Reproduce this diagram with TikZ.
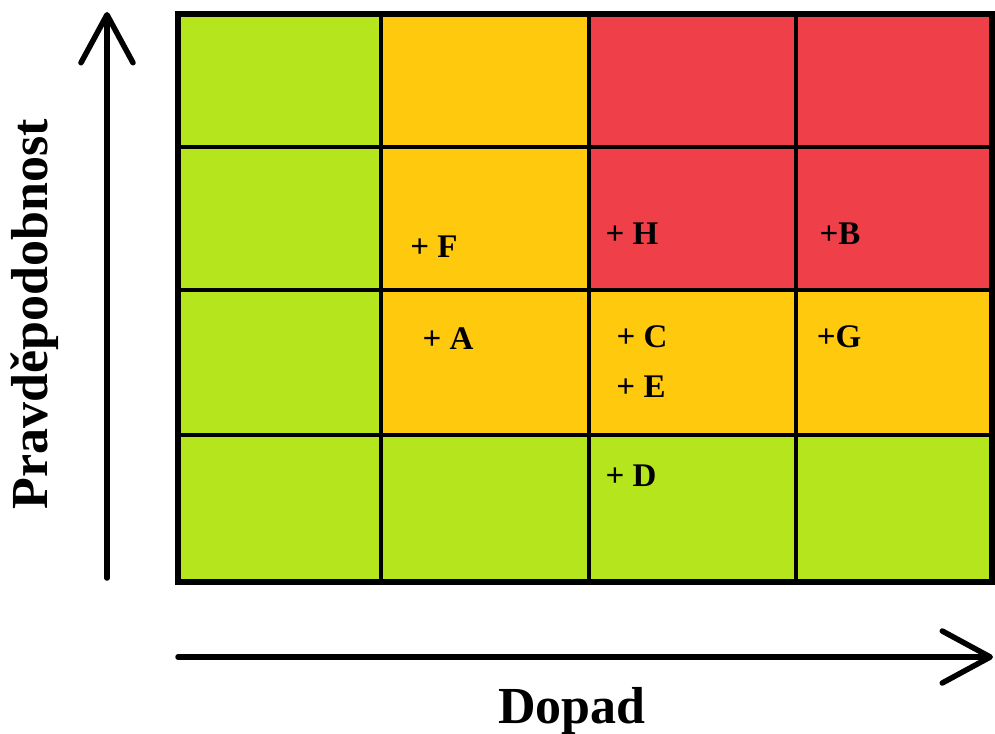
\documentclass[tikz,border=0pt]{standalone}
\usepackage{fontspec}
\setmainfont{Liberation Serif}
\usetikzlibrary{positioning,arrows.meta}
\definecolor{lowgreen}{RGB}{181,230,29}
\definecolor{midorange}{RGB}{255,201,14}
\definecolor{highred}{RGB}{239,64,74}
\tikzset{
  axisarrow/.style={-{Straight Barb[length=48pt,width=52pt,round]}, line width=5.5pt, line cap=round},
  gridline/.style={line width=3.5pt},
  frameline/.style={line width=6pt},
  risklabel/.style={font=\fontsize{33}{40}\selectfont\bfseries, anchor=base, inner sep=0pt},
  axislabel/.style={font=\fontsize{52}{60}\selectfont\bfseries, inner sep=0pt}
}

\begin{document}
\begin{tikzpicture}[x=1pt,y=-1pt]
  \useasboundingbox (0,0) rectangle (995,733);
  % matrix cells
  \fill[lowgreen] (178,14) rectangle (992,582);
  \fill[midorange] (381,14) rectangle (589,290);
  \fill[highred] (589,14) rectangle (992,290);
  \fill[midorange] (381,290) rectangle (992,435);
  \foreach \gx in {381,589,796}
    \draw[gridline] (\gx,14) -- (\gx,582);
  \foreach \gy in {147,290,435}
    \draw[gridline] (178,\gy) -- (992,\gy);
  \draw[frameline] (178,14) rectangle (992,582);

  % risks
  \node[risklabel] (rF) at (434,257) {+ F};
  \node[risklabel] (rH) at (632,244) {+ H};
  \node[risklabel] (rB) at (840,244) {+B};
  \node[risklabel] (rA) at (448,349) {+ A};
  \node[risklabel] (rC) at (642,347) {+ C};
  \node[risklabel] (rE) at (641,397) {+ E};
  \node[risklabel] (rG) at (839,347) {+G};
  \node[risklabel] (rD) at (631,486) {+ D};

  % axes
  \coordinate (ybase) at (107,578);
  \coordinate (ytip) at (107,12);
  \coordinate (xbase) at (178,657);
  \coordinate (xtip) at (993,657);
  \draw[axisarrow] (ybase) -- (ytip);
  \draw[axisarrow] (xbase) -- (xtip);
  \node[axislabel, rotate=90] (ylab) at (35,314) {Pravděpodobnost};
  \node[axislabel, anchor=base] (xlab) at (572,723) {Dopad};
\end{tikzpicture}
\end{document}
